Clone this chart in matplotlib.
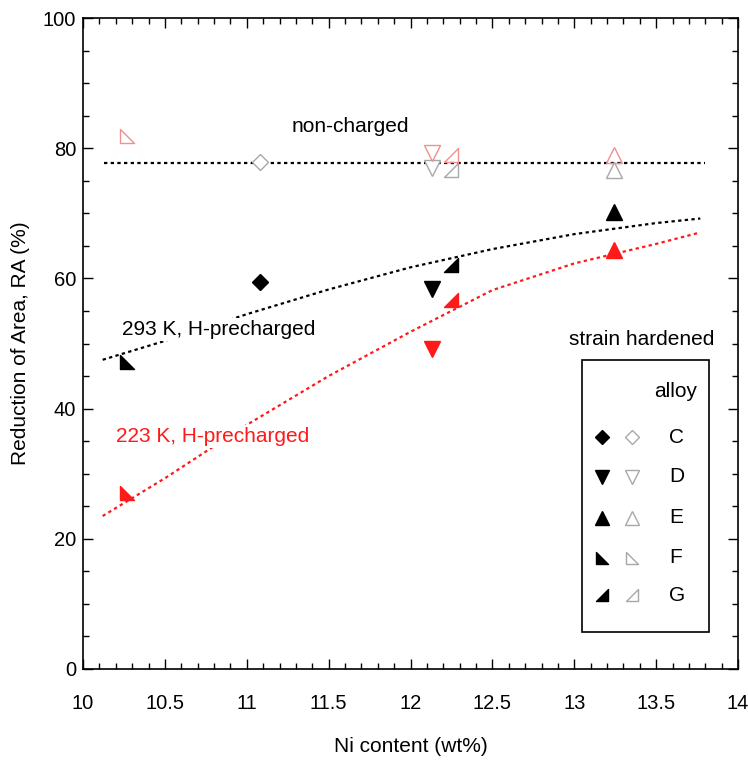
import numpy as np
import matplotlib.pyplot as plt
from matplotlib.path import Path
from matplotlib.patches import Rectangle
from matplotlib.ticker import MultipleLocator

plt.rcParams['font.family'] = ['Liberation Sans', 'DejaVu Sans']

# alloy Ni content (wt%)
alloys = ['C', 'D', 'E', 'F', 'G']
ni = {'C': 11.08, 'D': 12.13, 'E': 13.24, 'F': 10.27, 'G': 12.25}

# RA (%) per condition
ra_293 = {'C': 59.4, 'D': 58.3, 'E': 70.2, 'F': 47.2, 'G': 62.0}
ra_223 = {'D': 49.1, 'E': 64.4, 'F': 27.0, 'G': 56.7}
ra_noncharged = {'C': 77.9, 'D': 77.0, 'E': 76.7, 'G': 76.7}
ra_noncharged_sh = {'D': 79.3, 'E': 79.0, 'F': 81.9, 'G': 79.0}

# trend lines
noncharged_x = [10.13, 13.8]
noncharged_y = [77.7, 77.7]
fit293_x = [10.12, 10.5, 11.0, 11.5, 12.0, 12.5, 13.0, 13.5, 13.77]
fit293_y = [47.5, 50.4, 54.5, 58.3, 61.7, 64.5, 66.8, 68.5, 69.2]
fit223_x = [10.12, 10.5, 11.0, 11.5, 12.0, 12.5, 13.0, 13.5, 13.76]
fit223_y = [23.5, 29.3, 37.5, 45.0, 51.8, 58.2, 62.3, 65.3, 67.0]

tri_f = Path([(-1, 1), (-1, -1), (1, -1), (-1, 1)],
             [Path.MOVETO, Path.LINETO, Path.LINETO, Path.CLOSEPOLY])
tri_g = Path([(1, 1), (1, -1), (-1, -1), (1, 1)],
             [Path.MOVETO, Path.LINETO, Path.LINETO, Path.CLOSEPOLY])
markers = {'C': 'D', 'D': 'v', 'E': '^', 'F': tri_f, 'G': tri_g}
msize = {'C': 8.5, 'D': 11, 'E': 11, 'F': 9.5, 'G': 9.5}

GRAY = '#a8a8a8'
PINK = '#f09090'
RED = '#ff1a1a'
FS = 15

fig = plt.figure(figsize=(7.48, 7.63), dpi=100)
ax = fig.add_axes([83 / 748, 94 / 763, 655 / 748, 651 / 763])

dots = (0, (1.5, 1.5))
ax.plot(noncharged_x, noncharged_y, color='black', ls=dots, lw=1.6)
ax.plot(fit293_x, fit293_y, color='black', ls=dots, lw=1.6)
ax.plot(fit223_x, fit223_y, color=RED, ls=dots, lw=1.6)

for a in alloys:
    if a in ra_noncharged:
        ax.plot(ni[a], ra_noncharged[a], marker=markers[a], ms=msize[a], mfc='white',
                mec=GRAY, mew=1.0, ls='none')
    if a in ra_noncharged_sh:
        ax.plot(ni[a], ra_noncharged_sh[a], marker=markers[a], ms=msize[a], mfc='none',
                mec=PINK, mew=1.0, ls='none')
    ax.plot(ni[a], ra_293[a], marker=markers[a], ms=msize[a], color='black', ls='none')
    if a in ra_223:
        ax.plot(ni[a], ra_223[a], marker=markers[a], ms=msize[a], color=RED, ls='none')

box = dict(facecolor='white', edgecolor='none', pad=1.5)
ax.text(11.63, 83.4, 'non-charged', fontsize=FS, ha='center', va='center')
ax.text(10.24, 52.1, '293 K, H-precharged', fontsize=FS, ha='left', va='center',
        bbox=box, zorder=5)
ax.text(10.2, 35.7, '223 K, H-precharged', fontsize=FS, ha='left', va='center',
        color=RED, bbox=box, zorder=5)
ax.text(13.41, 50.6, 'strain hardened', fontsize=FS, ha='center', va='center')

# legend box
ax.add_patch(Rectangle((13.05, 5.7), 0.77, 41.7, fill=False, ec='black', lw=1.2))
ax.text(13.62, 42.6, 'alloy', fontsize=FS, ha='center', va='center')
row_y = [35.6, 29.5, 23.2, 17.1, 11.3]
for a, yy in zip(alloys, row_y):
    ax.plot(13.17, yy, marker=markers[a], ms=msize[a] - 1, color='black', ls='none')
    ax.plot(13.35, yy, marker=markers[a], ms=msize[a] - 1, mfc='white', mec=GRAY,
            mew=1.0, ls='none')
    ax.text(13.58, yy, a, fontsize=FS, ha='left', va='center')

ax.set_xlim(10, 14)
ax.set_ylim(0, 100)
ax.xaxis.set_minor_locator(MultipleLocator(0.1))
ax.yaxis.set_major_locator(MultipleLocator(20))
ax.yaxis.set_minor_locator(MultipleLocator(5))
ax.set_xticks(np.arange(10, 14.01, 0.5))
ax.set_xticklabels(['10', '10.5', '11', '11.5', '12', '12.5', '13', '13.5', '14'])
ax.tick_params(which='both', direction='in', top=True, right=True, labelsize=14.5)
ax.tick_params(which='major', length=7, width=1.0)
ax.tick_params(which='minor', length=4, width=1.0)
ax.tick_params(axis='y', which='major', pad=5)
ax.tick_params(axis='x', which='major', pad=18)
for s in ax.spines.values():
    s.set_linewidth(1.2)

ax.set_xlabel('Ni content (wt%)', fontsize=FS, labelpad=17)
ax.set_ylabel('Reduction of Area, RA (%)', fontsize=FS, labelpad=9)

fig.savefig('out.png', dpi=100)
